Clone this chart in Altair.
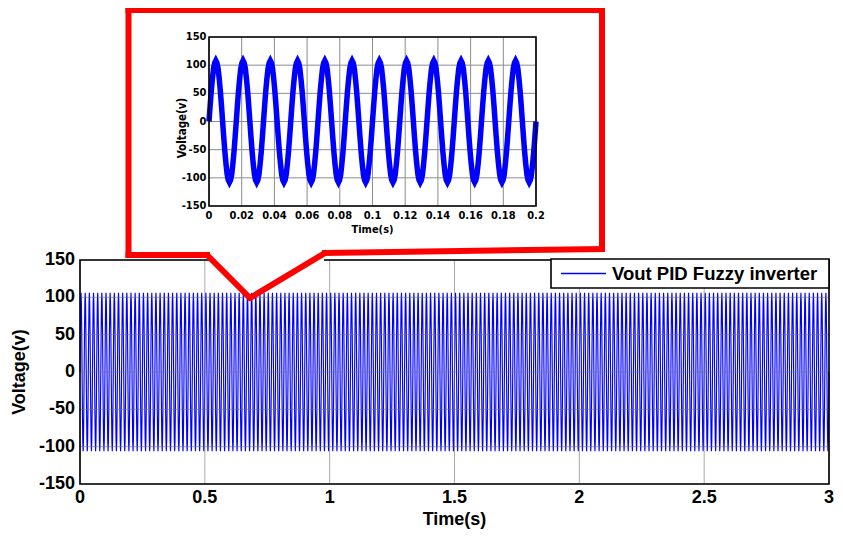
import altair as alt
import pandas as pd

# ---------------- data ----------------
FREQ_HZ = 60                      # 12 periods in 0.2 s
MAIN_T_END = 3.0
INSET_T_END = 0.2
# one period of the output voltage (peak ~106 V)
main_cycle = [0, 53, 92, 106, 92, 53, 0, -53, -92, -106, -92, -53]
# one period, finer (peak ~108 V)
inset_cycle = [0, 28, 54, 76, 94, 104, 108, 104, 94, 76, 54, 28,
               0, -28, -54, -76, -94, -104, -108, -104, -94, -76, -54, -28]
main_x_ticks = [0, 0.5, 1, 1.5, 2, 2.5, 3]
inset_x_ticks = [0, 0.02, 0.04, 0.06, 0.08, 0.1, 0.12, 0.14, 0.16, 0.18, 0.2]
y_ticks = [-150, -100, -50, 0, 50, 100, 150]
series_name = "Vout PID Fuzzy inverter"
x_title = "Time(s)"
y_title = "Voltage(v)"


def tile(cycle, t_end):
    n = len(cycle)
    cycles = int(round(t_end * FREQ_HZ))
    t, v = [], []
    for c in range(cycles):
        for k, val in enumerate(cycle):
            t.append((c + k / n) / FREQ_HZ)
            v.append(val)
    t.append(t_end)
    v.append(cycle[0])
    return pd.DataFrame({"t": t, "v": v, "series": series_name})


main_df = tile(main_cycle, MAIN_T_END)
inset_df = tile(inset_cycle, INSET_T_END)

FONT = "Liberation Sans, Arial, sans-serif"
NARROW = "Liberation Sans Narrow, DejaVu Sans Condensed, sans-serif"
BLUE = "#0000ff"

W, H = 827, 522
MX0, MX1 = 72, 821          # main plot area, pixels
MY0, MY1 = 252, 476
main_xs = alt.Scale(domain=[0, MAIN_T_END], range=[MX0, MX1], nice=False, zero=False)
main_ys = alt.Scale(domain=[-150, 150], range=[MY1, MY0], nice=False, zero=False)
in_xs = alt.Scale(domain=[0, INSET_T_END], range=[201, 528], nice=False, zero=False)
in_ys = alt.Scale(domain=[-150, 150], range=[198, 29], nice=False, zero=False)


def vgrid(ticks, xs, ys, lo, hi, color, width, opacity):
    d = pd.DataFrame({"x": ticks, "y0": lo, "y1": hi})
    return alt.Chart(d).mark_rule(color=color, strokeWidth=width, opacity=opacity).encode(
        x=alt.X("x:Q", scale=xs, axis=None),
        y=alt.Y("y0:Q", scale=ys, axis=None),
        y2="y1:Q",
    )


def hgrid(ticks, xs, ys, lo, hi, color, width, opacity):
    d = pd.DataFrame({"y": ticks, "x0": lo, "x1": hi})
    return alt.Chart(d).mark_rule(color=color, strokeWidth=width, opacity=opacity).encode(
        y=alt.Y("y:Q", scale=ys, axis=None),
        x=alt.X("x0:Q", scale=xs, axis=None),
        x2="x1:Q",
    )


def frame(xs, ys, x0, x1, width):
    d = pd.DataFrame({"x0": [x0], "x1": [x1], "y0": [-150], "y1": [150]})
    return alt.Chart(d).mark_rect(fillOpacity=0, stroke="black", strokeWidth=width).encode(
        x=alt.X("x0:Q", scale=xs, axis=None),
        x2="x1:Q",
        y=alt.Y("y0:Q", scale=ys, axis=None),
        y2="y1:Q",
    )


def xlabels(ticks, xs, ypix, font, size):
    d = pd.DataFrame({"v": ticks, "label": [f"{t:g}" for t in ticks]})
    return alt.Chart(d).mark_text(font=font, fontSize=size, fontWeight="bold",
                                  color="black", align="center", baseline="middle").encode(
        x=alt.X("v:Q", scale=xs, axis=None), y=alt.value(ypix), text="label:N")


def ylabels(ticks, ys, xpix, font, size):
    d = pd.DataFrame({"v": ticks, "label": [f"{t:g}" for t in ticks]})
    return alt.Chart(d).mark_text(font=font, fontSize=size, fontWeight="bold",
                                  color="black", align="right", baseline="middle").encode(
        y=alt.Y("v:Q", scale=ys, axis=None), x=alt.value(xpix), text="label:N")


one = pd.DataFrame({"a": [0]})


def text_at(txt, xpix, ypix, font, size, angle=0, align="center"):
    return alt.Chart(one).mark_text(text=txt, font=font, fontSize=size, fontWeight="bold",
                                    color="black", align=align, baseline="middle",
                                    angle=angle).encode(x=alt.value(xpix), y=alt.value(ypix))


def seg(x1, y1, x2, y2, color="#ff0000", width=6, cap="square"):
    return alt.Chart(one).mark_rule(color=color, strokeWidth=width, strokeCap=cap).encode(
        x=alt.value(x1), y=alt.value(y1), x2=alt.value(x2), y2=alt.value(y2))


def box(x1, y1, x2, y2):
    return alt.Chart(one).mark_rect(fill="white", stroke="black", strokeWidth=1.6).encode(
        x=alt.value(x1), y=alt.value(y1), x2=alt.value(x2), y2=alt.value(y2))


# ---------------- main plot ----------------
main_line = alt.Chart(main_df).mark_line(strokeWidth=1.15, color=BLUE).encode(
    x=alt.X("t:Q", scale=main_xs, axis=None),
    y=alt.Y("v:Q", scale=main_ys, axis=None),
    detail="series:N",
)

main_layer = alt.layer(
    main_line,
    vgrid(main_x_ticks, main_xs, main_ys, -150, 150, "#6f6f6f", 1, 0.6),
    hgrid(y_ticks, main_xs, main_ys, 0, MAIN_T_END, "#6f6f6f", 1, 0.6),
    frame(main_xs, main_ys, 0, MAIN_T_END, 1.6),
    xlabels(main_x_ticks, main_xs, 490, FONT, 18),
    ylabels(y_ticks, main_ys, 67, FONT, 18),
)

# ---------------- zoomed inset ----------------
inset_line = alt.Chart(inset_df).mark_line(strokeWidth=5.5, color=BLUE).encode(
    x=alt.X("t:Q", scale=in_xs, axis=None),
    y=alt.Y("v:Q", scale=in_ys, axis=None),
)

inset_layer = alt.layer(
    vgrid(inset_x_ticks, in_xs, in_ys, -150, 150, "#8c8c8c", 1, 1),
    hgrid(y_ticks, in_xs, in_ys, 0, INSET_T_END, "#8c8c8c", 1, 1),
    inset_line,
    frame(in_xs, in_ys, 0, INSET_T_END, 1.6),
    xlabels(inset_x_ticks, in_xs, 208, NARROW, 11),
    ylabels(y_ticks, in_ys, 198.5, NARROW, 11),
)

# ---------------- titles, legend box and red callout (pixel placed) ----------------
LX0, LX1, LY0, LY1 = MX1 - 278, MX1, 251, 280
LYC = (LY0 + LY1) / 2
decor = alt.layer(
    text_at(x_title, (MX0 + MX1) / 2, 512, FONT, 18),
    text_at(y_title, 12, (MY0 + MY1) / 2, FONT, 18, angle=270),
    text_at(x_title, 364.5, 222, NARROW, 11),
    text_at(y_title, 175, 120, NARROW, 11.5, angle=270),
    # legend
    box(LX0, LY0, LX1, LY1),
    seg(LX0 + 10, LYC, LX0 + 55, LYC, color=BLUE, width=1.5, cap="butt"),
    text_at(series_name, LX0 + 61, LYC + 0.5, FONT, 18.5, align="left"),
    # callout
    seg(201, MY0, 316, MY0, color="white", width=3, cap="butt"),
    seg(120.5, 2, 594, 2),
    seg(120.5, 2, 120.5, 247),
    seg(594, 2, 594, 241),
    seg(120.5, 247, 199, 247),
    seg(317, 245, 594, 241),
    seg(199, 247, 242, 290, cap="round"),
    seg(242, 290, 317, 245, cap="round"),
)

chart = alt.layer(main_layer, inset_layer, decor).resolve_scale(
    x="independent", y="independent"
).properties(
    width=W, height=H, padding=0, autosize=alt.AutoSizeParams(type="none"),
    background="white",
).configure_view(strokeWidth=0)

chart.save("out.html", embed_options={"renderer": "svg", "actions": False})
